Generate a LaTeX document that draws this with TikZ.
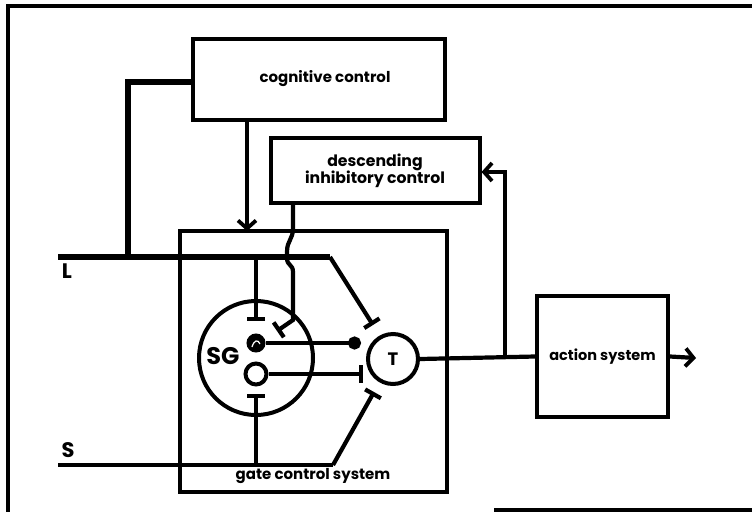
\documentclass[tikz,border=0pt]{standalone}
\usepackage{fontspec}
\setmainfont{Poppins}
\usetikzlibrary{arrows.meta}
\begin{document}
\begin{tikzpicture}[x=1pt,y=-1pt,
  box/.style={draw,line width=4pt,rectangle,inner sep=0pt,align=center},
  wire/.style={line width=4.2pt},
  heavy/.style={line width=6.5pt},
  inh/.style={-{Bar[width=18pt,line width=4.2pt]}},
  barb/.style={-{Straight Barb[length=8pt,width=18pt,line width=3.8pt]}},
  cell/.style={draw,circle,line width=4pt,inner sep=0pt},
  lab/.style={font=\bfseries\fontsize{21}{22}\selectfont}]
\useasboundingbox (0,0) rectangle (752,515);
% frame
\draw[line width=3.6pt] (752,6) -- (8,6) -- (8,512);
\draw[line width=3.6pt] (494,510) -- (752,510);
% boxes
\node[box,minimum width=252pt,minimum height=81pt] (cog) at (319,79.5) {};
\node[font=\bfseries\fontsize{15}{16}\selectfont] (cogtext) at (325,79) {cognitive control};
\node[box,minimum width=209pt,minimum height=65pt,font=\bfseries\fontsize{15.7}{17}\selectfont] (desc) at (375,170.5) {descending\\inhibitory control};
\node[box,line width=3.6pt,minimum width=267pt,minimum height=261pt] (gate) at (313.5,361.5) {};
\node[font=\bfseries\fontsize{15}{16}\selectfont] (gatelab) at (313,476) {gate control system};
\node[box,minimum width=131pt,minimum height=121pt,font=\bfseries\fontsize{14.5}{16}\selectfont] (act) at (602.5,356.5) {action system};
% cells
\node[cell,minimum size=114pt] (sg) at (256,358) {};
\node[lab,font=\bfseries\fontsize{24}{24}\selectfont] (sglab) at (223,356) {SG};
\node[cell,fill=black,minimum size=15pt] (fc) at (256,343) {};
\draw[white,line width=1.2pt] (252,347) .. controls (254,340) and (258,339) .. (260,344);
\node[cell,minimum size=21pt] (oc) at (256,374) {};
\node[cell,minimum size=50pt,font=\bfseries\fontsize{18}{18}\selectfont] (T) at (393,359) {T};
% coordinates
\coordinate (Lstart) at (58,257);
\coordinate (Lbend) at (330,257);
\coordinate (Lend) at (373,325);
\coordinate (Sstart) at (58,465);
\coordinate (Sbend) at (333,465);
\coordinate (Send) at (374,392);
\coordinate (cogj) at (128,82);
\coordinate (cogL) at (128,257);
\coordinate (Lv) at (256,257);
\coordinate (Lvb) at (256,321);
\coordinate (Sv) at (256,465);
\coordinate (Svb) at (256,394);
\coordinate (dot) at (361,343);
\coordinate (obar) at (363,374);
\coordinate (dtop) at (293,203);
\coordinate (dlow) at (293,320);
\coordinate (dend) at (277,331);
\coordinate (fbk) at (505,358);
\coordinate (fbtop) at (505,172);
\coordinate (outend) at (696,358);
\coordinate (cogarr) at (247,120);
\coordinate (cogtip) at (247,231);
% labels L and S
\node[lab] (Llab) at (67,271) {L};
\node[lab] (Slab) at (68,450) {S};
% lines
\draw[heavy] (cog.west |- cogj) -- (cogj) -- (cogL);
\draw[heavy] (Lstart) -- (Lbend);
\draw[wire,inh] (Lbend) -- (Lend);
\draw[wire] (Sstart) -- (Sbend);
\draw[wire,inh] (Sbend) -- (Send);
\draw[wire,inh] (Lv) -- (Lvb);
\draw[wire,inh] (Sv) -- (Svb);
\draw[wire,inh] (dtop) -- (293,228) .. controls (293,240) and (287,240) .. (287,252) -- (287,258) .. controls (287,266) and (293,264) .. (293,272) -- (dlow) -- (dend);
\draw[wire,-{Circle[length=13pt]}] (fc.east) -- (dot);
\draw[wire,inh] (oc.east) -- (obar);
\draw[wire] (T.east) -- (act.west);
\draw[wire,barb] (act.east) -- (outend);
\draw[wire,barb] (fbk) -- (fbtop) -- (desc.east |- fbtop);
\draw[wire,barb] (cogarr) -- (cogtip);
\end{tikzpicture}
\end{document}
